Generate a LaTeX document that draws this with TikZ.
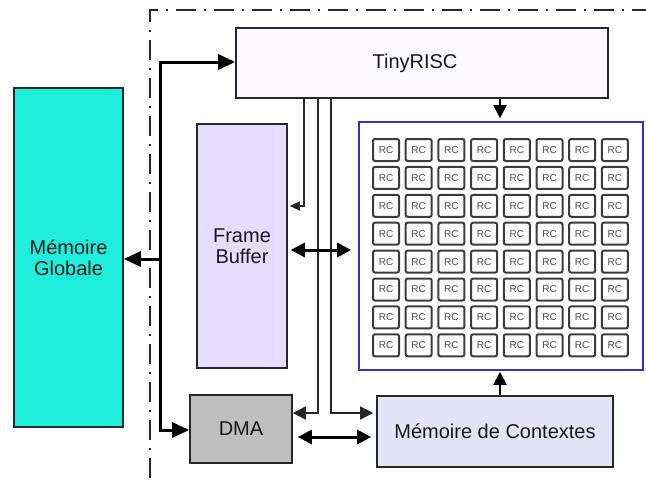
\documentclass[tikz,border=0pt]{standalone}
\usepackage{fontspec}
\setmainfont{Liberation Sans}
\usetikzlibrary{arrows.meta,calc}
\definecolor{cyanbox}{RGB}{32,238,220}
\definecolor{trfill}{RGB}{252,248,255}
\definecolor{fbfill}{RGB}{230,222,255}
\definecolor{dmafill}{RGB}{190,190,190}
\definecolor{mcfill}{RGB}{228,228,248}
\definecolor{arrblue}{RGB}{50,50,190}
\definecolor{edge}{RGB}{40,40,40}
\definecolor{rcedge}{RGB}{60,60,60}
\tikzset{
  blk/.style={draw=edge, line width=1.6pt, rectangle, inner sep=0pt, align=center,
    font=\fontsize{20}{21}\selectfont, text=black!90},
  rccell/.style={draw=rcedge, line width=2pt, rounded corners=2pt, fill=white,
    minimum width=26pt, minimum height=22pt, inner sep=0pt,
    font=\fontsize{10}{10}\selectfont, text=black!70},
  bus/.style={line width=3pt, draw=black},
  thinl/.style={line width=1.5pt, draw=black!85},
  frame/.style={line width=1.3pt, draw=black!85, dash pattern=on 20pt off 8pt on 2pt off 8pt}
}
\begin{document}
\begin{tikzpicture}[x=1pt,y=-1pt]
\useasboundingbox (0,0) rectangle (646,483);
% dash-dot frame
\draw[frame] (150,478) -- (150,10) -- (646,10);
% blocks
\node[blk, fill=cyanbox, minimum width=109pt, minimum height=339pt] (mg) at (68.5,257.5) {Mémoire\\Globale};
\node[blk, fill=trfill, minimum width=372pt, minimum height=70pt] (tr) at (422,63) {\hspace*{-14pt}TinyRISC};
\node[blk, fill=fbfill, minimum width=90pt, minimum height=244pt] (fb) at (242,246) {Frame\\Buffer};
\node[draw=arrblue, line width=1.6pt, rectangle, minimum width=284pt, minimum height=248pt, inner sep=0pt] (rc) at (501,246) {};
\node[blk, fill=dmafill, minimum width=102pt, minimum height=68pt] (dma) at (241,429) {DMA};
\node[blk, fill=mcfill, minimum width=236pt, minimum height=71pt] (mc) at (495,431.5) {Mémoire de Contextes};
% RC cells
\foreach \i in {0,...,7}{
  \foreach \j in {0,...,7}{
    \node[rccell] (rc-\i-\j) at ({386+32.7*\i},{150+27.9*\j}) {RC};
  }
}
% bus
\coordinate (busTop) at (160,62);
\coordinate (busMid) at (160,259);
\coordinate (busBot) at (160,430);
\draw[bus, arrows={Triangle[length=17pt,width=15pt]-Triangle[length=17pt,width=15pt]}] (dma.west |- busBot) -- (busBot) -- (busTop) -- (tr.west |- busTop);
\draw[bus, arrows={-Triangle[length=17pt,width=15pt]}] (busMid) -- (mg.east |- busMid);
% thin lines from TinyRISC
\coordinate (a1) at (304,206);
\coordinate (a2) at (318,413);
\coordinate (a3) at (331,413);
\draw[thinl, arrows={-Triangle[length=10pt,width=9pt]}, shorten >=2pt] (tr.south -| a1) -- (a1) -- (fb.east |- a1);
\draw[thinl, arrows={-Triangle[length=13pt,width=13pt]}] (tr.south -| a2) -- (a2) -- (dma.east |- a2);
\draw[thinl, arrows={-Triangle[length=13pt,width=13pt]}, shorten >=3pt] (tr.south -| a3) -- (a3) -- (mc.west |- a3);
% double arrows
\coordinate (y1) at (0,250);
\draw[bus, arrows={Triangle[length=14pt,width=14pt]-Triangle[length=14pt,width=14pt]}, shorten <=3pt, shorten >=7pt] (fb.east |- y1) -- (rc.west |- y1);
\coordinate (y2) at (0,437);
\draw[bus, arrows={Triangle[length=14pt,width=14pt]-Triangle[length=14pt,width=14pt]}, shorten <=5pt, shorten >=5pt] (dma.east |- y2) -- (mc.west |- y2);
% vertical arrows to array
\coordinate (xv) at (500,0);
\draw[line width=2pt, arrows={-Triangle[length=13pt,width=13pt]}, shorten >=3pt] (tr.south -| xv) -- (rc.north -| xv);
\draw[line width=2pt, arrows={-Triangle[length=13pt,width=13pt]}, shorten >=1pt] (mc.north -| xv) -- (rc.south -| xv);
\end{tikzpicture}
\end{document}
